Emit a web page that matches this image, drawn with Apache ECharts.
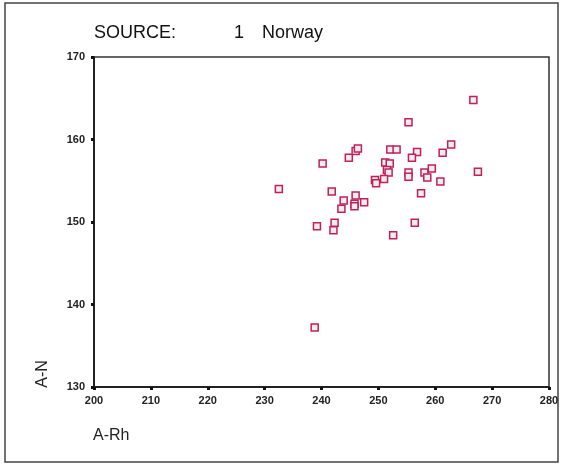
<!DOCTYPE html>
<html>
<head>
<meta charset="utf-8">
<script src="https://cdn.jsdelivr.net/npm/echarts@6/dist/echarts.min.js"></script>
<style>
  html, body { margin: 0; padding: 0; background: #fff; }
  #chart { width: 565px; height: 466px; }
</style>
</head>
<body>
<div id="chart"></div>
<script>
// A-Rh (x) and A-N (y) per sample
var aRh = [232.5, 240.2, 244.8, 246.0, 246.4, 252.1, 253.2, 251.2, 252.0, 251.5,
           251.8, 249.4, 249.6, 251.0, 241.8, 246.0, 243.9, 247.5, 245.8, 245.8,
           243.5, 242.3, 239.2, 242.1, 252.6, 266.7, 255.3, 262.8, 261.3, 256.8,
           255.9, 255.3, 255.3, 258.1, 259.4, 258.6, 260.9, 267.5, 257.5, 256.4,
           238.8];
var aN = [154.0, 157.1, 157.8, 158.6, 158.9, 158.8, 158.8, 157.2, 157.1, 156.3,
          156.0, 155.1, 154.7, 155.2, 153.7, 153.2, 152.6, 152.4, 152.2, 151.9,
          151.6, 149.9, 149.5, 149.0, 148.4, 164.8, 162.1, 159.4, 158.4, 158.5,
          157.8, 156.0, 155.5, 156.0, 156.5, 155.4, 154.9, 156.1, 153.5, 149.9,
          137.2];

var points = [];
for (var i = 0; i < aRh.length; i++) {
    points.push([aRh[i], aN[i]]);
}

var titleFont = { fontFamily: 'Arial', fontSize: 18, fontWeight: 'normal', color: '#111' };

var myChart = echarts.init(document.getElementById('chart'));
var option = {
    backgroundColor: '#fff',
    animation: false,
    title: [
        { text: 'SOURCE:', left: 94, top: 24, padding: 0, textStyle: titleFont },
        { text: '1', left: 234, top: 24, padding: 0, textStyle: titleFont },
        { text: 'Norway', left: 262, top: 24, padding: 0, textStyle: titleFont }
    ],
    graphic: [
        {
            type: 'rect',
            shape: { x: 5, y: 3, width: 553, height: 459 },
            style: { fill: 'none', stroke: '#444', lineWidth: 1.5 }
        },
        {
            type: 'text',
            left: 93, top: 428,
            style: { text: 'A-Rh', font: '16px Arial', fill: '#222' }
        },
        {
            type: 'text',
            x: 43, y: 374, rotation: Math.PI / 2,
            style: { text: 'A-N', font: '16px Arial', fill: '#222', align: 'center', verticalAlign: 'middle' }
        }
    ],
    grid: {
        left: 94,
        top: 57,
        right: 16,
        bottom: 79,
        show: true,
        borderColor: '#333',
        borderWidth: 1.5
    },
    xAxis: {
        type: 'value',
        min: 200,
        max: 280,
        interval: 10,
        splitLine: { show: false },
        axisLine: { lineStyle: { color: '#222', width: 2 } },
        axisTick: { show: true, length: 3, lineStyle: { color: '#111', width: 3 } },
        axisLabel: { margin: 8, fontFamily: 'Arial', fontSize: 11, fontWeight: 'bold', color: '#222' }
    },
    yAxis: {
        type: 'value',
        min: 130,
        max: 170,
        interval: 10,
        splitLine: { show: false },
        axisLine: { show: true, lineStyle: { color: '#222', width: 2 } },
        axisTick: { show: true, length: 3, lineStyle: { color: '#111', width: 3 } },
        axisLabel: { margin: 9, fontFamily: 'Arial', fontSize: 11, fontWeight: 'bold', color: '#222' }
    },
    series: [
        {
            type: 'scatter',
            data: points,
            symbol: 'rect',
            symbolSize: 7,
            itemStyle: {
                color: '#eeeeee',
                borderColor: '#c41f5a',
                borderWidth: 1.5,
                opacity: 1
            }
        }
    ]
};
myChart.setOption(option);
</script>
</body>
</html>
